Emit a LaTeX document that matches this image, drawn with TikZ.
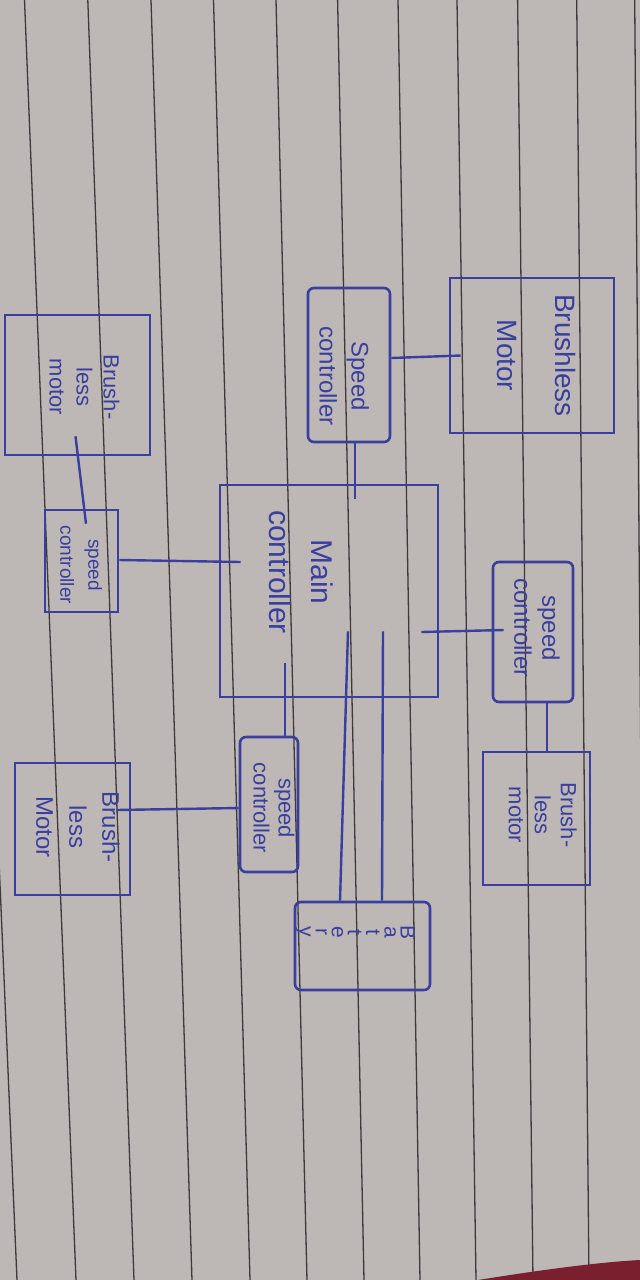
\documentclass[tikz,border=0pt]{standalone}
\usepackage{fontspec}
\setmainfont{Liberation Sans}
\usetikzlibrary{calc}
\definecolor{ink}{HTML}{3A3E9E}
\definecolor{paper}{HTML}{BDB8B5}
\definecolor{ruleline}{HTML}{3F3A3A}
\definecolor{redobj}{HTML}{7A1F2E}
\newcommand{\rtxt}[3]{\rotatebox{-90}{\fontsize{#1}{#2}\selectfont\begin{tabular}{@{}c@{}}#3\end{tabular}}}
\begin{document}
\begin{tikzpicture}[x=1pt,y=-1pt,
  box/.style={draw=ink, line width=2.6pt, inner sep=0pt},
  ctl/.style={box, rounded corners=6pt},
  wire/.style={draw=ink, line width=2.4pt},
  lbl/.style={text=ink, inner sep=0pt},
  paperline/.style={draw=ruleline, line width=1.3pt}]
\useasboundingbox (0,0) rectangle (640,1280);
\fill[paper] (0,0) rectangle (640,1280);
\foreach \a/\b in {-38/17, 24.5/76, 87.8/134, 151/192, 213.5/250, 276/307, 337.6/364, 398/420, 457/476, 517.6/533, 576.7/589, 634.7/645}
  \draw[paperline] (\a,0) -- (\b,1280);
\fill[redobj] (478,1280) .. controls (540,1270) and (600,1262) .. (640,1260) -- (640,1280) -- cycle;

% boxes
\node[box, minimum width=164pt, minimum height=155pt,
  label={[lbl, shift={(6,0)}]center:\rtxt{28}{58}{Brushless\\Motor}}] (bm1) at (532,355.5) {};
\node[ctl, minimum width=82pt, minimum height=154pt,
  label={[lbl, shift={(-7,11)}]center:\rtxt{24}{32}{Speed\\controller}}] (sc1) at (349,365) {};
\node[box, minimum width=145pt, minimum height=140pt,
  label={[lbl, shift={(4.5,2)}]center:\rtxt{22}{27}{Brush-\\less\\motor}}] (bm2) at (77.5,385) {};
\node[box, minimum width=73pt, minimum height=102pt,
  label={[lbl, shift={(-1.5,4)}]center:\rtxt{19}{28}{speed\\controller}}] (sc2) at (81.5,561) {};
\node[box, minimum width=218pt, minimum height=212pt,
  label={[lbl, shift={(-30,-19)}]center:\rtxt{30}{42}{Main\\controller}}] (mc) at (329,591) {};
\node[ctl, minimum width=80pt, minimum height=140pt,
  label={[lbl, shift={(1,-4)}]center:\rtxt{24}{28}{speed\\controller}}] (sc3) at (533,632) {};
\node[box, minimum width=107pt, minimum height=133pt,
  label={[lbl, shift={(3.5,-3.5)}]center:\rtxt{22}{26}{Brush-\\less\\motor}}] (bm3) at (536.5,818.5) {};
\node[ctl, minimum width=58pt, minimum height=135pt,
  label={[lbl, shift={(2,3.5)}]center:\rtxt{22}{25}{speed\\controller}}] (sc4) at (269,804.5) {};
\node[box, minimum width=115pt, minimum height=132pt,
  label={[lbl, shift={(3.5,-2)}]center:\rtxt{24}{33}{Brush-\\less\\Motor}}] (bm4) at (72.5,829) {};
\node[ctl, minimum width=135pt, minimum height=88pt,
  label={[lbl, shift={(-7.5,-14)}]center:\rtxt{21}{16}{B\\a\\t\\t\\e\\r\\y}}] (bat) at (362.5,946) {};

% connectors
\draw[wire] ($(sc1.east)+(0,-7)$) -- ($(bm1.west)+(12,0)$);
\draw[wire] ($(sc1.south)+(6,0)$) -- ($(mc.north)+(26,15)$);
\draw[wire] ($(bm2.south)+(-2,-20)$) -- ($(sc2.north)+(4.5,15)$);
\draw[wire] ($(sc2.east)+(0,-1)$) -- ($(mc.west)+(22,-29)$);
\draw[wire] ($(mc.east)+(-18,41)$) -- ($(sc3.west)+(12,-2)$);
\draw[wire] ($(sc3.south)+(14,0)$) -- ($(bm3.north)+(10.5,0)$);
\draw[wire] ($(mc.south)+(-44,-35)$) -- ($(sc4.north)+(16,0)$);
\draw[wire] ($(sc4.west)+(0,3.5)$) -- ($(bm4.east)+(-15,-19)$);
\draw[wire] ($(mc.south)+(19,-67)$) -- ($(bat.north)+(-22.5,0)$);
\draw[wire] ($(mc.south)+(54,-67)$) -- ($(bat.north)+(19.5,0)$);
\end{tikzpicture}
\end{document}
